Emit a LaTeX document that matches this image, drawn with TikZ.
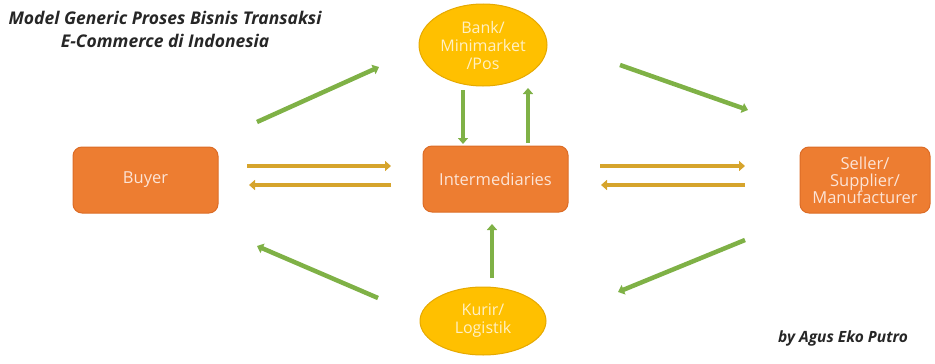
\documentclass[tikz,border=0pt]{standalone}
\usepackage{fontspec}
\setmainfont{Open Sans}
\usetikzlibrary{shapes.geometric, arrows.meta}

\definecolor{boxorange}{HTML}{ED7D31}
\definecolor{boxedge}{HTML}{DC6C26}
\definecolor{boxtext}{HTML}{FCE4D6}
\definecolor{ovalgold}{HTML}{FFC000}
\definecolor{ovaledge}{HTML}{E6A900}
\definecolor{ovaltext}{HTML}{FFF0C4}
\definecolor{arrowgreen}{HTML}{7FB146}
\definecolor{arrowgold}{HTML}{D6A42C}
\definecolor{titletext}{HTML}{262626}

\tikzset{
	box/.style={draw=boxedge, fill=boxorange, line width=1pt, rounded corners=9pt,
		minimum height=66pt, text=boxtext, align=center,
		font=\fontsize{16.5}{17}\selectfont},
	oval/.style={ellipse, draw=ovaledge, fill=ovalgold, line width=1pt,
		inner sep=0pt, text=ovaltext, align=center,
		font=\fontsize{16}{18}\selectfont},
	greenarrow/.style={draw=arrowgreen, line width=4.5pt,
		-{Triangle[width=10pt, length=6pt]}},
	goldarrow/.style={draw=arrowgold, line width=4.5pt,
		-{Triangle[width=10pt, length=6pt]}},
	note/.style={text=titletext, align=center,
		font=\fontsize{15.5}{23}\selectfont\bfseries\itshape}
}

\begin{document}
\begin{tikzpicture}[x=1pt, y=-1pt]
	\useasboundingbox (0,0) rectangle (935,364);

	\node (title) [note, font=\fontsize{17.5}{23}\selectfont\bfseries\itshape] at (165,29) {Model Generic Proses Bisnis Transaksi\\E-Commerce di Indonesia};
	\node (author) [note] at (843,338) {by Agus Eko Putro};

	\node (buyer) [box, minimum width=145pt] at (145.5,180) {Buyer};
	\node (inter) [box, minimum width=145pt] at (495.5,179) {Intermediaries};
	\node (seller) [box, minimum width=130pt] at (865,180) {Seller/\\Supplier/\\Manufacturer};
	\node (bank) [oval, minimum width=128pt, minimum height=82pt] at (483,45) {Bank/\\Minimarket\\/Pos};
	\node (kurir) [oval, minimum width=126pt, minimum height=68pt] at (483,321) {Kurir/\\Logistik};

	\coordinate (b1) at (247,166);
	\coordinate (b2) at (391,166);
	\coordinate (b3) at (391,185);
	\coordinate (b4) at (249,185);
	\coordinate (s1) at (600,166);
	\coordinate (s2) at (745,166);
	\coordinate (s3) at (745,185);
	\coordinate (s4) at (601,185);

	\coordinate (g1) at (257,122);
	\coordinate (g2) at (379,67);
	\coordinate (g3) at (620,65);
	\coordinate (g4) at (748,110);
	\coordinate (g5) at (463,90);
	\coordinate (g6) at (463,144);
	\coordinate (g7) at (528,143);
	\coordinate (g8) at (528,88);
	\coordinate (g9) at (378,298);
	\coordinate (g10) at (257,246);
	\coordinate (g11) at (745,240);
	\coordinate (g12) at (618,292);
	\coordinate (g13) at (492,278);
	\coordinate (g14) at (492,224);

	\path
		(b1) edge [goldarrow] (b2)
		(b3) edge [goldarrow] (b4)
		(s1) edge [goldarrow] (s2)
		(s3) edge [goldarrow] (s4)
		(g1) edge [greenarrow] (g2)
		(g3) edge [greenarrow] (g4)
		(g5) edge [greenarrow] (g6)
		(g7) edge [greenarrow] (g8)
		(g9) edge [greenarrow] (g10)
		(g11) edge [greenarrow] (g12)
		(g13) edge [greenarrow] (g14)
	;
\end{tikzpicture}
\end{document}
